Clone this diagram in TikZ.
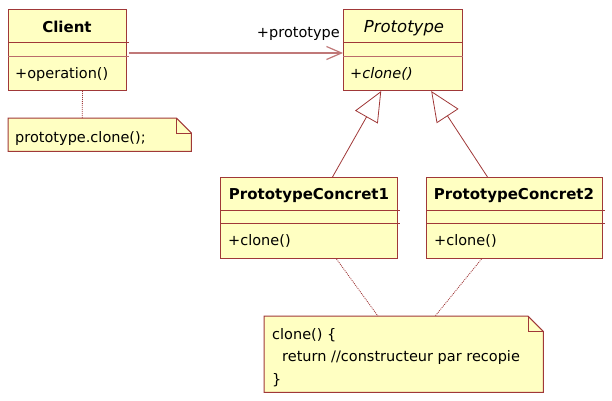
\documentclass[tikz,border=0pt]{standalone}
\usepackage{fontspec}
\setmainfont{DejaVu Sans}
\usetikzlibrary{arrows.meta}
\definecolor{umlborder}{HTML}{A03838}
\definecolor{umlfill}{HTML}{FFFFC2}
\definecolor{assoc}{HTML}{C07878}
\begin{document}
\begin{tikzpicture}[x=1pt,y=-1pt,
  classbox/.style={draw=umlborder, fill=umlfill, line width=1pt, anchor=north west, inner sep=0pt},
  notebox/.style={anchor=north west, inner sep=0pt},
  noteshape/.style={draw=umlborder, fill=umlfill, line width=1pt, line join=miter},
  sepline/.style={draw=umlborder, line width=1pt},
  dotline/.style={draw=umlborder, line width=0.8pt, dash pattern=on 1pt off 1pt},
  genline/.style={draw=umlborder, line width=0.8pt, -{Triangle[open, length=30pt, width=26pt, fill=white]}},
  assocline/.style={draw=assoc, line width=1.2pt, -{Straight Barb[length=15pt, width=13pt]}},
  txt/.style={inner sep=0pt, font=\fontsize{14.5}{17}\selectfont},
  titletxt/.style={inner sep=0pt, anchor=base, font=\fontsize{15}{18}\selectfont\bfseries},
]
\useasboundingbox (0,0) rectangle (612,400);

% classes
\node[classbox, minimum width=118pt, minimum height=81pt] (client) at (8,9) {};
\node[classbox, minimum width=119pt, minimum height=81pt] (proto) at (343,9) {};
\node[classbox, minimum width=177pt, minimum height=81pt] (pc1) at (220,177) {};
\node[classbox, minimum width=176pt, minimum height=81pt] (pc2) at (426,177) {};

% separators
\draw[sepline] ([yshift=-33pt]client.north west) -- ([yshift=-33pt,xshift=2pt]client.north east);
\draw[sepline, draw=assoc!80!umlborder] ([yshift=-47pt]client.north west) -- ([yshift=-47pt,xshift=2pt]client.north east);
\draw[sepline] ([yshift=-33pt]proto.north west) -- ([yshift=-33pt]proto.north east);
\draw[sepline, draw=assoc!80!umlborder] ([yshift=-47pt]proto.north west) -- ([yshift=-47pt]proto.north east);
\draw[sepline] ([yshift=-33pt]pc1.north west) -- ([yshift=-33pt,xshift=2pt]pc1.north east);
\draw[sepline] ([yshift=-46pt]pc1.north west) -- ([yshift=-46pt,xshift=2pt]pc1.north east);
\draw[sepline] ([yshift=-33pt]pc2.north west) -- ([yshift=-33pt,xshift=2pt]pc2.north east);
\draw[sepline] ([yshift=-46pt]pc2.north west) -- ([yshift=-46pt,xshift=2pt]pc2.north east);

% class texts
\node[titletxt] (clientname) at (67,32) {Client};
\node[txt, anchor=base west] (clientop) at (15,78) {+operation()};
\node[txt, anchor=base, font=\fontsize{16.5}{19}\selectfont\itshape] (protoname) at (404,32) {Prototype};
\node[txt, anchor=base west, font=\fontsize{14.5}{17}\selectfont\itshape] (protoop) at (350,78) {+clone()};
\node[titletxt] (pc1name) at (309,199.5) {PrototypeConcret1};
\node[txt, anchor=base west] (pc1op) at (228,245.5) {+clone()};
\node[titletxt] (pc2name) at (514,199.5) {PrototypeConcret2};
\node[txt, anchor=base west] (pc2op) at (434,245.5) {+clone()};

% notes
\node[notebox, minimum width=183pt, minimum height=33pt] (note1) at (8,118) {};
\draw[noteshape] (note1.north west) -- ([xshift=-15pt]note1.north east) -- ([yshift=-15pt]note1.north east) -- (note1.south east) -- (note1.south west) -- cycle;
\draw[sepline, line width=0.8pt] ([xshift=-15pt]note1.north east) -- ([xshift=-15pt,yshift=-15pt]note1.north east) -- ([yshift=-15pt]note1.north east);
\node[txt, anchor=base west] (note1txt) at (15,142) {prototype.clone();};

\node[notebox, minimum width=279pt, minimum height=76pt] (note2) at (264,316) {};
\draw[noteshape] (note2.north west) -- ([xshift=-15.5pt]note2.north east) -- ([yshift=-15.5pt]note2.north east) -- (note2.south east) -- (note2.south west) -- cycle;
\draw[sepline, line width=0.8pt] ([xshift=-15.5pt]note2.north east) -- ([xshift=-15.5pt,yshift=-15.5pt]note2.north east) -- ([yshift=-15.5pt]note2.north east);
\node[txt, anchor=base west] (n2l1) at (272,339) {clone() \{};
\node[txt, anchor=base west] (n2l2) at (282,361.5) {return //constructeur par recopie};
\node[txt, anchor=base west] (n2l3) at (272,384) {\}};

% association
\coordinate (assocy) at (0,53);
\draw[assocline] ([xshift=2pt]client.east |- assocy) -- (proto.west |- assocy);
\node[txt, anchor=base east] (rolename) at (340,37) {+prototype};

% generalizations
\draw[genline] ([xshift=23.5pt]pc1.north) -- ([xshift=-21.8pt]proto.south);
\draw[genline] ([xshift=-27pt]pc2.north) -- ([xshift=28.2pt]proto.south);

% note anchors
\draw[dotline] ([xshift=15pt]client.south) -- ([xshift=-17.5pt]note1.north);
\draw[dotline] ([xshift=27.5pt]pc1.south) -- ([xshift=-25.8pt]note2.north);
\draw[dotline] ([xshift=-33pt]pc2.south) -- ([xshift=31.5pt]note2.north);
\end{tikzpicture}
\end{document}
